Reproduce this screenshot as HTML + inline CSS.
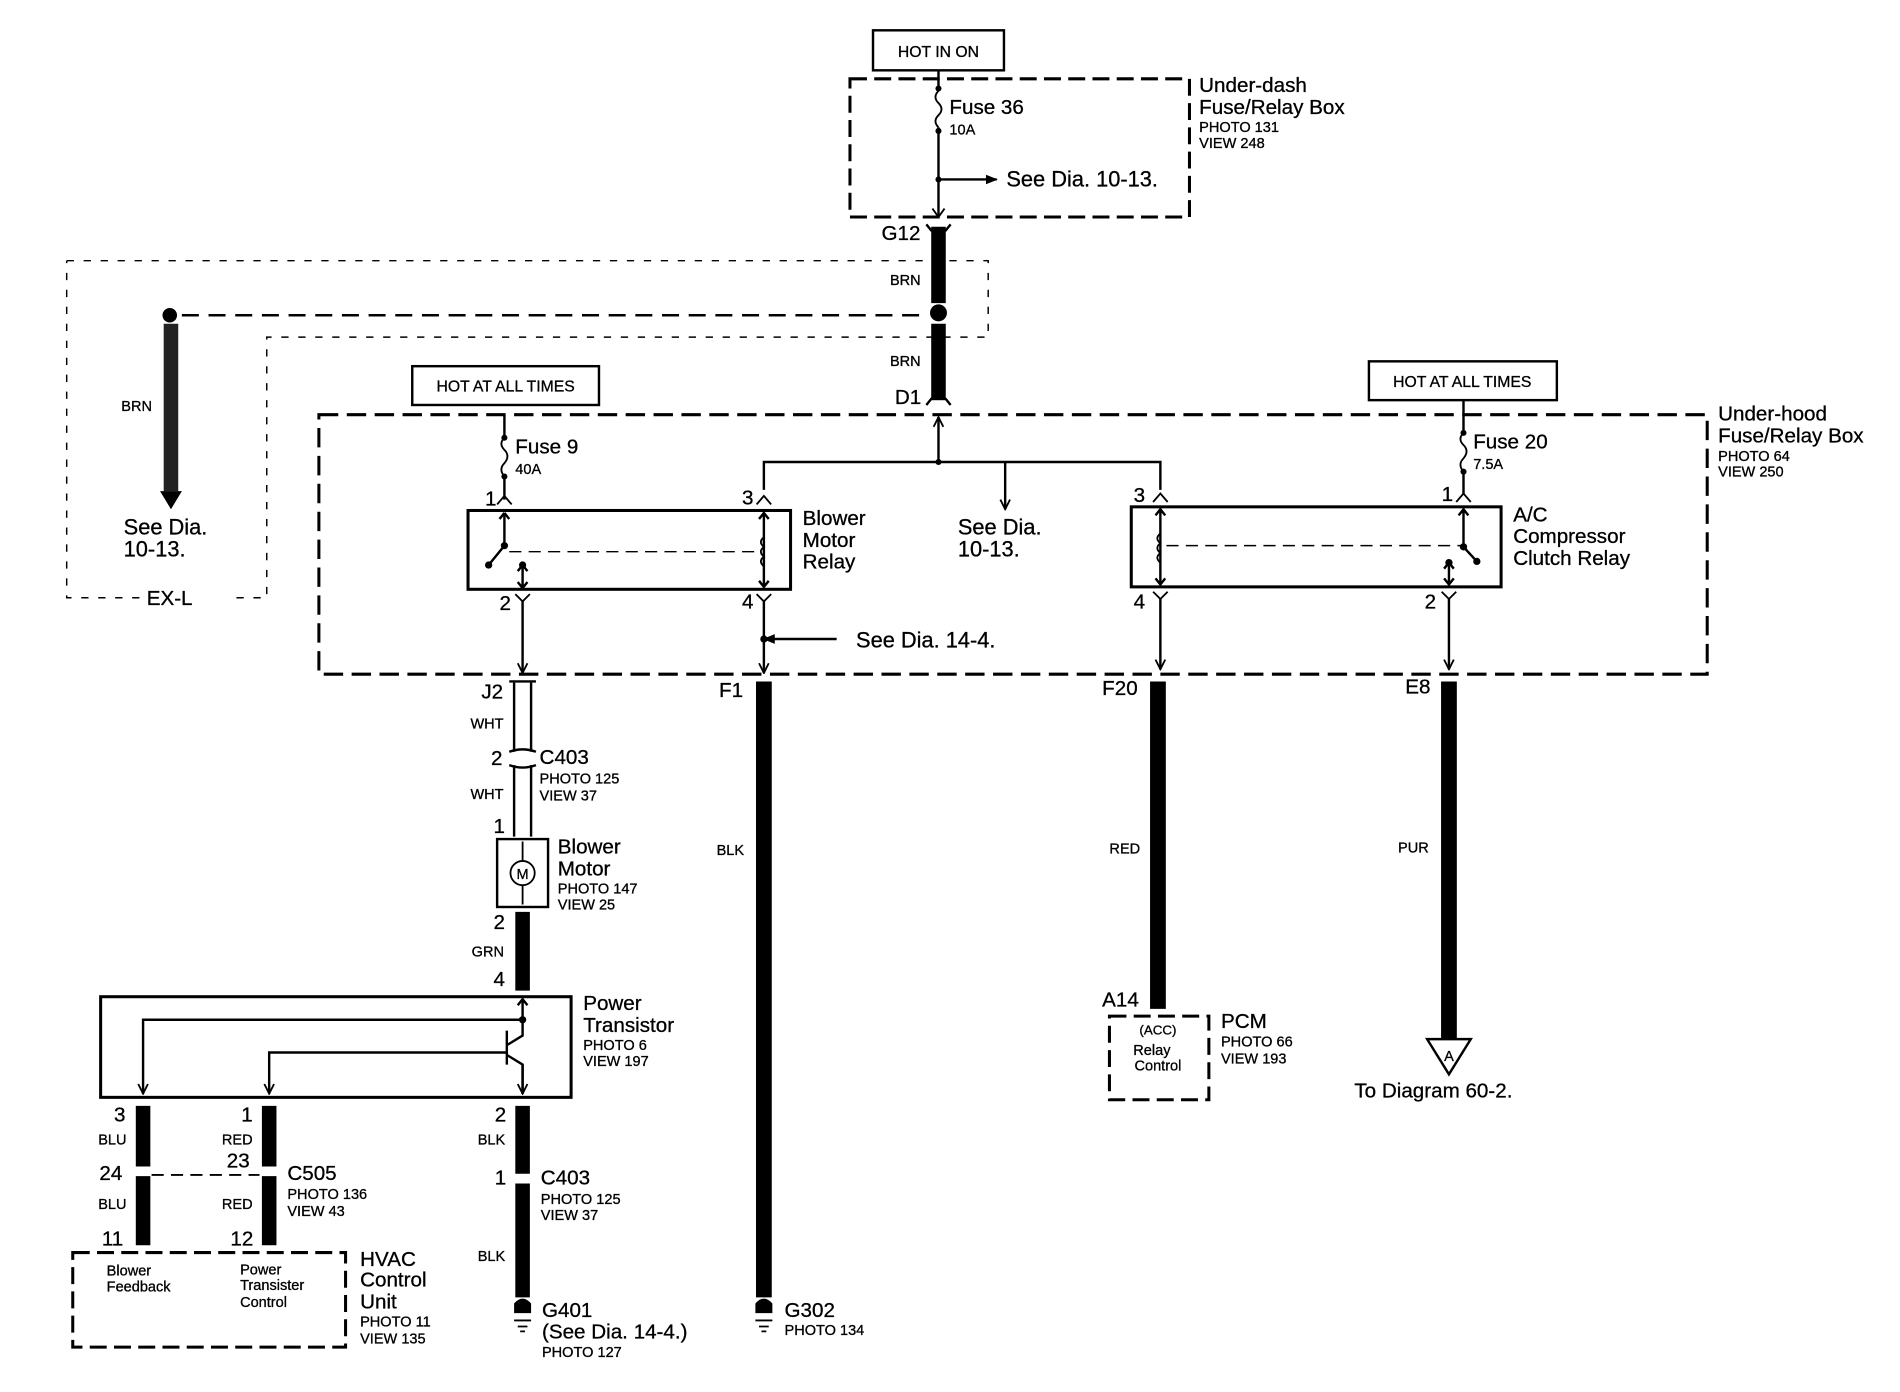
<!DOCTYPE html>
<html><head><meta charset="utf-8"><style>
html,body{margin:0;padding:0;background:#fff;}
svg{display:block;}
text{font-family:"Liberation Sans",sans-serif;fill:#000;stroke:#000;stroke-width:0.25;}
.L{font-size:17px;}
.S{font-size:12px;}
.M{font-size:13px;}
</style></head><body>
<svg width="1900" height="1392" viewBox="0 0 1567 1148" preserveAspectRatio="none" xmlns="http://www.w3.org/2000/svg">
<defs>
<marker id="ah" markerWidth="10" markerHeight="10" refX="9" refY="5" orient="auto" markerUnits="userSpaceOnUse"><path d="M1,1 L9,5 L1,9" fill="none" stroke="#000" stroke-width="1.5"/></marker>
<marker id="af" markerWidth="10" markerHeight="10" refX="9" refY="5" orient="auto" markerUnits="userSpaceOnUse"><path d="M0,1 L10,5 L0,9Z" fill="#000"/></marker>
</defs>
<g fill="none" stroke="#000">
<rect x="720" y="25" width="108" height="33" stroke-width="2"/>
<rect x="701" y="65" width="280" height="114" stroke-width="2.5" stroke-dasharray="14,6"/>
<path d="M774 58 V75 M774 105 V178" stroke-width="2"/>
<path d="M774 75 q-5 5 0 10 q5 5 0 10 q-5 5 0 10" stroke-width="1.5"/>
<path d="M774 148 H822" stroke-width="2" marker-end="url(#af)"/>
<path d="M769 172 L774 179 L779 172" stroke-width="1.5"/>
<path d="M55 215 H815 V278 H220 V493 H190 M115 493 H55 V215" stroke-width="1.2" stroke-dasharray="6,8"/>
<path d="M150 260 H765" stroke-width="2" stroke-dasharray="14,8"/>
<path d="M774 187 V250 M774 267 V330" stroke-width="12"/>
<path d="M764 185 L768 190 H780 L784 185 M764 334 L768 329 H780 L784 334" stroke-width="2"/>
<path d="M141 267 V405" stroke-width="12" stroke="#222"/>
<rect x="340" y="302" width="154" height="32" stroke-width="2"/>
<rect x="1129" y="298" width="155" height="32" stroke-width="2"/>
<rect x="263" y="342" width="1145" height="214" stroke-width="2.5" stroke-dasharray="16,7"/>
<path d="M774 381 V344" stroke-width="2" marker-end="url(#ah)"/>
<path d="M630 404 V381 H957 V404" stroke-width="2"/>
<path d="M829 381 V420" stroke-width="2" marker-end="url(#ah)"/>
<path d="M416 342 V361 M416 393 V412" stroke-width="2"/>
<path d="M416 361 q-5 5 0 10 q5 5 0 11 q-5 5 0 11" stroke-width="1.5"/>
<path d="M410 416 L416 409 L422 416 M624 416 L630 409 L636 416" stroke-width="1.5"/>
<rect x="386" y="421" width="266" height="65" stroke-width="2.5"/>
<path d="M416 423 V450 L403 466 M416 423 l-4 5 M416 423 l4 5" stroke-width="2"/>
<path d="M420 455 H625" stroke-width="1.2" stroke-dasharray="10,6"/>
<path d="M431 467 V485 M427 471 L431 466 L435 471 M427 480 L431 485 L435 480" stroke-width="2"/>
<path d="M630 423 V484 M626 428 L630 423 L634 428 M626 479 L630 484 L634 479" stroke-width="2"/>
<path d="M630 443 q-5 4 0 8 q-5 4 0 8 q-5 4 0 8" stroke-width="1.5"/>
<path d="M425 490 L431 496 L437 490 M624 490 L630 496 L636 490" stroke-width="1.5"/>
<path d="M431 496 V555" stroke-width="2" marker-end="url(#ah)"/>
<path d="M630 496 V555" stroke-width="2" marker-end="url(#ah)"/>
<path d="M630 527 H690" stroke-width="2" marker-end="url(#af)" transform="rotate(180 660 527)"/>
<path d="M1207 330 V357 M1207 389 V408" stroke-width="2"/>
<path d="M1207 357 q-5 5 0 10 q5 5 0 11 q-5 5 0 11" stroke-width="1.5"/>
<path d="M1201 414 L1207 407 L1213 414 M951 414 L957 407 L963 414" stroke-width="1.5"/>
<rect x="933" y="418" width="305" height="66" stroke-width="2.5"/>
<path d="M957 420 V482 M953 425 L957 420 L961 425 M953 477 L957 482 L961 477" stroke-width="2"/>
<path d="M957 440 q-5 4 0 8 q-5 4 0 8 q-5 4 0 8" stroke-width="1.5"/>
<path d="M962 450 H1205" stroke-width="1.2" stroke-dasharray="10,6"/>
<path d="M1207 420 V451 L1218 463 M1203 425 L1207 420 L1211 425" stroke-width="2"/>
<path d="M1195 464 V482 M1191 469 L1195 464 L1199 469 M1191 477 L1195 482 L1199 477" stroke-width="2"/>
<path d="M951 488 L957 494 L963 488 M1189 488 L1195 494 L1201 488" stroke-width="1.5"/>
<path d="M957 494 V552" stroke-width="2" marker-end="url(#ah)"/>
<path d="M1195 494 V552" stroke-width="2" marker-end="url(#ah)"/>
<path d="M424 563 V620 M438 563 V620 M424 631 V690 M438 631 V690" stroke-width="2"/>
<path d="M420 562 H442 M420 620 q11 -4 22 0 M420 631 q11 4 22 0" stroke-width="2"/>
<rect x="410" y="692" width="42" height="56" stroke-width="2"/>
<circle cx="431" cy="720" r="10" stroke-width="1.5"/>
<path d="M431 694 V710 M431 730 V746" stroke-width="1.5"/>
<path d="M431 752 V817" stroke-width="12"/>
<rect x="83" y="822" width="388" height="83" stroke-width="2.5"/>
<path d="M431 824 V854 L418 862 M418 850 V878 M418 870 L431 878 V902" stroke-width="2"/>
<path d="M427 829 L431 824 L435 829" stroke-width="2"/>
<path d="M431 841 H118 V902" stroke-width="2" marker-end="url(#ah)"/>
<path d="M418 868 H222 V902" stroke-width="2" marker-end="url(#ah)"/>
<path d="M431 878 V902" stroke-width="2" marker-end="url(#ah)"/>
<path d="M118 912 V962 M118 970 V1027 M222 912 V962 M222 970 V1027 M431 912 V968 M431 976 V1070" stroke-width="12"/>
<path d="M125 969 H214" stroke-width="1.5" stroke-dasharray="10,6"/>
<path d="M630 562 V1070 M955 562 V832 M1195 562 V857" stroke-width="13"/>
<rect x="60" y="1033" width="225" height="78" stroke-width="2.5" stroke-dasharray="14,6"/>
<rect x="915" y="838" width="82" height="69" stroke-width="2.5" stroke-dasharray="14,6"/>
<path d="M1177 857 H1213 L1195 886 Z" stroke-width="2"/>
<path d="M424 1089 H438 M427 1094 H435 M429 1098 H433 M623 1089 H637 M626 1094 H634 M628 1098 H632" stroke-width="1.5"/>
</g>
<g fill="#000">
<path d="M132 405 H150 L141 420 Z"/>
<circle cx="140" cy="260" r="6"/>
<circle cx="774" cy="258" r="7"/>
<circle cx="774" cy="148" r="2.5"/><circle cx="774" cy="73" r="2.5"/><circle cx="774" cy="108" r="2.5"/>
<circle cx="774" cy="381" r="2.5"/><circle cx="630" cy="527" r="3"/>
<circle cx="416" cy="361" r="2.5"/><circle cx="416" cy="393" r="2.5"/>
<circle cx="1207" cy="357" r="2.5"/><circle cx="1207" cy="389" r="2.5"/>
<circle cx="416" cy="450" r="3"/><circle cx="403" cy="466" r="3"/><circle cx="431" cy="466" r="3"/>
<circle cx="1207" cy="451" r="3"/><circle cx="1218" cy="463" r="3"/><circle cx="1195" cy="464" r="3"/>
<circle cx="431" cy="841" r="3"/>
<path d="M424 1075 q7 -8 14 0 v8 h-14z"/><path d="M623 1075 q7 -8 14 0 v8 h-14z"/>
</g>
<g>
<text x="774" y="47" class="M" text-anchor="middle">HOT IN ON</text>
<text x="783" y="94" class="L">Fuse 36</text>
<text x="783" y="111" class="S">10A</text>
<text x="830" y="154" class="L" style="font-size:18px">See Dia. 10-13.</text>
<text x="989" y="76" class="L">Under-dash</text>
<text x="989" y="94" class="L">Fuse/Relay Box</text>
<text x="989" y="109" class="S">PHOTO 131</text>
<text x="989" y="122" class="S">VIEW 248</text>
<text x="727" y="198" class="L">G12</text>
<text x="734" y="235" class="S">BRN</text>
<text x="734" y="302" class="S">BRN</text>
<text x="738" y="333" class="L">D1</text>
<text x="100" y="339" class="S">BRN</text>
<text x="102" y="441" class="L" style="font-size:18px">See Dia.</text>
<text x="102" y="459" class="L" style="font-size:18px">10-13.</text>
<text x="121" y="499" class="L">EX-L</text>
<text x="417" y="323" class="M" text-anchor="middle">HOT AT ALL TIMES</text>
<text x="1206" y="319" class="M" text-anchor="middle">HOT AT ALL TIMES</text>
<text x="1417" y="347" class="L">Under-hood</text>
<text x="1417" y="365" class="L">Fuse/Relay Box</text>
<text x="1417" y="380" class="S">PHOTO 64</text>
<text x="1417" y="393" class="S">VIEW 250</text>
<text x="425" y="374" class="L">Fuse 9</text>
<text x="425" y="391" class="S">40A</text>
<text x="1215" y="370" class="L">Fuse 20</text>
<text x="1215" y="387" class="S">7.5A</text>
<text x="400" y="417" class="L">1</text><text x="612" y="416" class="L">3</text>
<text x="935" y="414" class="L">3</text><text x="1189" y="413" class="L">1</text>
<text x="412" y="503" class="L">2</text><text x="612" y="502" class="L">4</text>
<text x="935" y="502" class="L">4</text><text x="1175" y="502" class="L">2</text>
<text x="662" y="433" class="L">Blower</text>
<text x="662" y="451" class="L">Motor</text>
<text x="662" y="469" class="L">Relay</text>
<text x="790" y="441" class="L" style="font-size:18px">See Dia.</text>
<text x="790" y="459" class="L" style="font-size:18px">10-13.</text>
<text x="1248" y="430" class="L">A/C</text>
<text x="1248" y="448" class="L">Compressor</text>
<text x="1248" y="466" class="L">Clutch Relay</text>
<text x="706" y="534" class="L" style="font-size:18px">See Dia. 14-4.</text>
<text x="397" y="576" class="L">J2</text>
<text x="593" y="575" class="L">F1</text>
<text x="909" y="573" class="L">F20</text>
<text x="1159" y="572" class="L">E8</text>
<text x="388" y="601" class="S">WHT</text>
<text x="405" y="631" class="L">2</text>
<text x="445" y="630" class="L">C403</text>
<text x="445" y="646" class="S">PHOTO 125</text>
<text x="445" y="660" class="S">VIEW 37</text>
<text x="388" y="659" class="S">WHT</text>
<text x="407" y="687" class="L">1</text>
<text x="431" y="725" class="S" text-anchor="middle">M</text>
<text x="460" y="704" class="L">Blower</text>
<text x="460" y="722" class="L">Motor</text>
<text x="460" y="737" class="S">PHOTO 147</text>
<text x="460" y="750" class="S">VIEW 25</text>
<text x="407" y="766" class="L">2</text>
<text x="389" y="789" class="S">GRN</text>
<text x="407" y="813" class="L">4</text>
<text x="591" y="705" class="S">BLK</text>
<text x="915" y="704" class="S">RED</text>
<text x="1153" y="703" class="S">PUR</text>
<text x="481" y="833" class="L">Power</text>
<text x="481" y="851" class="L">Transistor</text>
<text x="481" y="866" class="S">PHOTO 6</text>
<text x="481" y="879" class="S">VIEW 197</text>
<text x="909" y="830" class="L">A14</text>
<text x="955" y="853" class="S" text-anchor="middle" style="font-size:11px">(ACC)</text>
<text x="950" y="870" class="S" text-anchor="middle">Relay</text>
<text x="955" y="883" class="S" text-anchor="middle">Control</text>
<text x="1007" y="848" class="L">PCM</text>
<text x="1007" y="863" class="S">PHOTO 66</text>
<text x="1007" y="877" class="S">VIEW 193</text>
<text x="1195" y="875" class="S" text-anchor="middle">A</text>
<text x="1117" y="905" class="L">To Diagram 60-2.</text>
<text x="94" y="925" class="L">3</text><text x="81" y="944" class="S">BLU</text>
<text x="82" y="973" class="L">24</text><text x="81" y="997" class="S">BLU</text>
<text x="84" y="1027" class="L">11</text>
<text x="199" y="925" class="L">1</text><text x="183" y="944" class="S">RED</text>
<text x="187" y="963" class="L">23</text><text x="183" y="997" class="S">RED</text>
<text x="190" y="1027" class="L">12</text>
<text x="237" y="973" class="L">C505</text>
<text x="237" y="989" class="S">PHOTO 136</text>
<text x="237" y="1003" class="S">VIEW 43</text>
<text x="408" y="925" class="L">2</text><text x="394" y="944" class="S">BLK</text>
<text x="408" y="977" class="L">1</text>
<text x="446" y="977" class="L">C403</text>
<text x="446" y="993" class="S">PHOTO 125</text>
<text x="446" y="1006" class="S">VIEW 37</text>
<text x="394" y="1040" class="S">BLK</text>
<text x="88" y="1052" class="S">Blower</text>
<text x="88" y="1065" class="S">Feedback</text>
<text x="198" y="1051" class="S">Power</text>
<text x="198" y="1064" class="S">Transister</text>
<text x="198" y="1078" class="S">Control</text>
<text x="297" y="1044" class="L">HVAC</text>
<text x="297" y="1061" class="L">Control</text>
<text x="297" y="1079" class="L">Unit</text>
<text x="297" y="1094" class="S">PHOTO 11</text>
<text x="297" y="1108" class="S">VIEW 135</text>
<text x="447" y="1086" class="L">G401</text>
<text x="447" y="1104" class="L">(See Dia. 14-4.)</text>
<text x="447" y="1119" class="S">PHOTO 127</text>
<text x="647" y="1086" class="L">G302</text>
<text x="647" y="1101" class="S">PHOTO 134</text>
</g>
</svg>
</body></html>
